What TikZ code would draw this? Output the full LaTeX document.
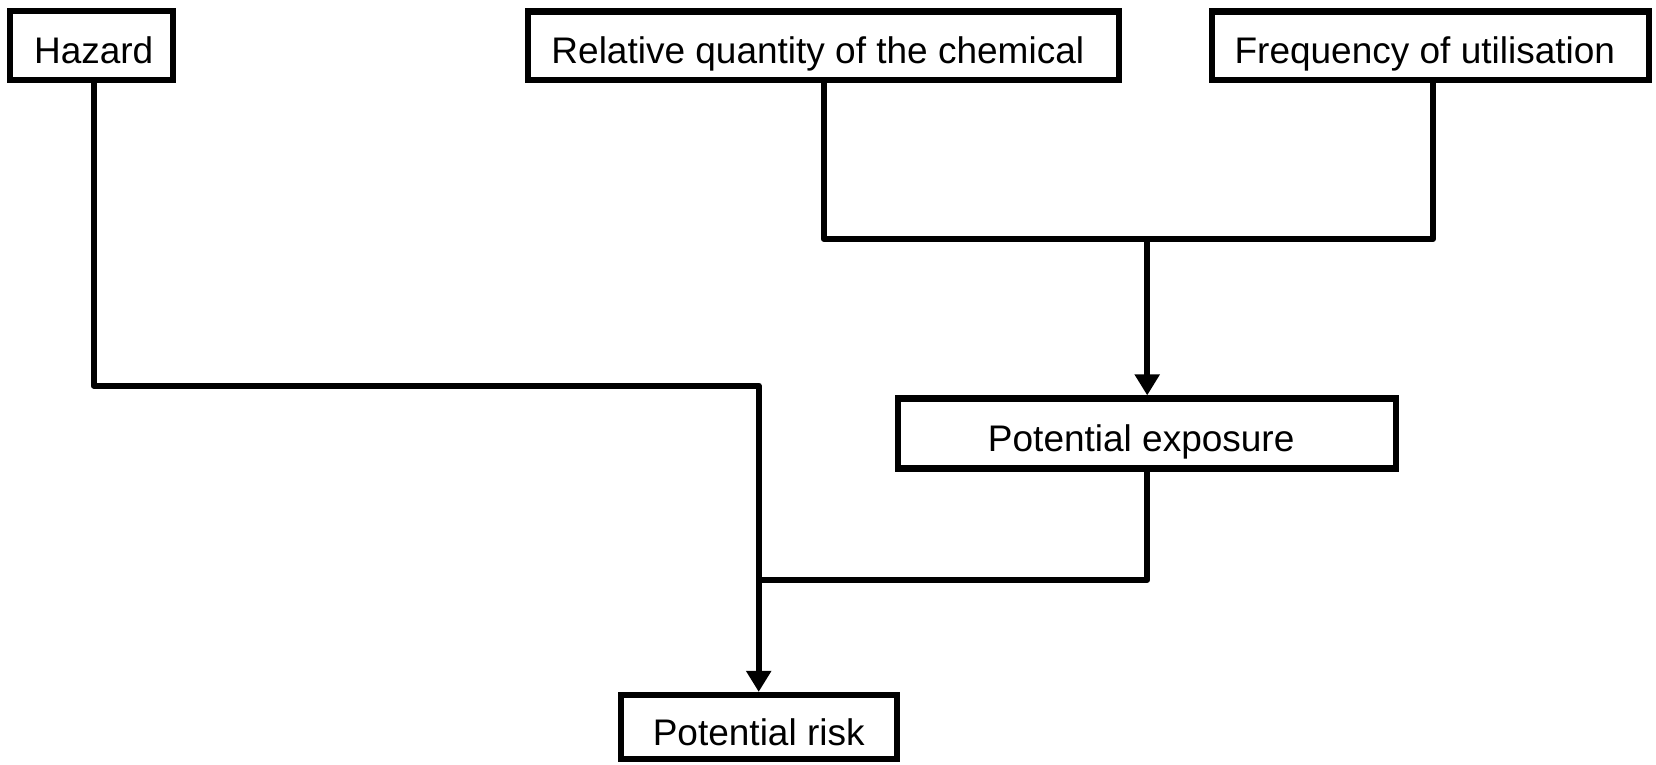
\documentclass[tikz,border=0pt]{standalone}
\usepackage{fontspec}
\setmainfont{Liberation Sans}
\usetikzlibrary{arrows.meta}
\begin{document}
\begin{tikzpicture}[x=1pt,y=1pt,
  boxnode/.style={draw=black, line width=6.2pt, fill=white, inner sep=0pt,
    text height=36pt, text depth=0pt,
    font=\fontsize{37}{43}\selectfont},
  link/.style={draw=black, line width=6pt, line join=round},
  arrowlink/.style={link, -{Triangle[width=24pt,length=21pt]}}]
\useasboundingbox (0,0) rectangle (1656,-764);
\fill[white] (0,0) rectangle (1656,-764);
\node[boxnode, minimum width=162.7pt, minimum height=68.7pt] (haz) at (91.7,-45.7) {\kern4pt Hazard};
\node[boxnode, minimum width=591pt, minimum height=68.5pt] (rel) at (823.8,-45.8) {Relative quantity of the chemical\kern12pt};
\node[boxnode, minimum width=437pt, minimum height=68.5pt] (freq) at (1430.8,-45.8) {Frequency of utilisation\kern12pt};
\node[boxnode, minimum width=497.7pt, minimum height=70pt] (exp) at (1147.2,-433.5) {Potential exposure\kern12pt};
\node[boxnode, minimum width=276pt, minimum height=64pt] (risk) at (758.7,-727) {Potential risk};
\coordinate (jtop) at (1147.2,-239);
\coordinate (jhaz) at (758.7,-385.5);
\coordinate (jexp) at (758.7,-580);
\draw[link] (rel.south) |- (jtop) -| ([xshift=2.2pt]freq.south);
\draw[arrowlink] (jtop) -- (exp.north);
\draw[link] (exp.south) |- (jexp);
\draw[arrowlink] ([xshift=2pt]haz.south) |- (jhaz) -- (risk.north);
\end{tikzpicture}
\end{document}
